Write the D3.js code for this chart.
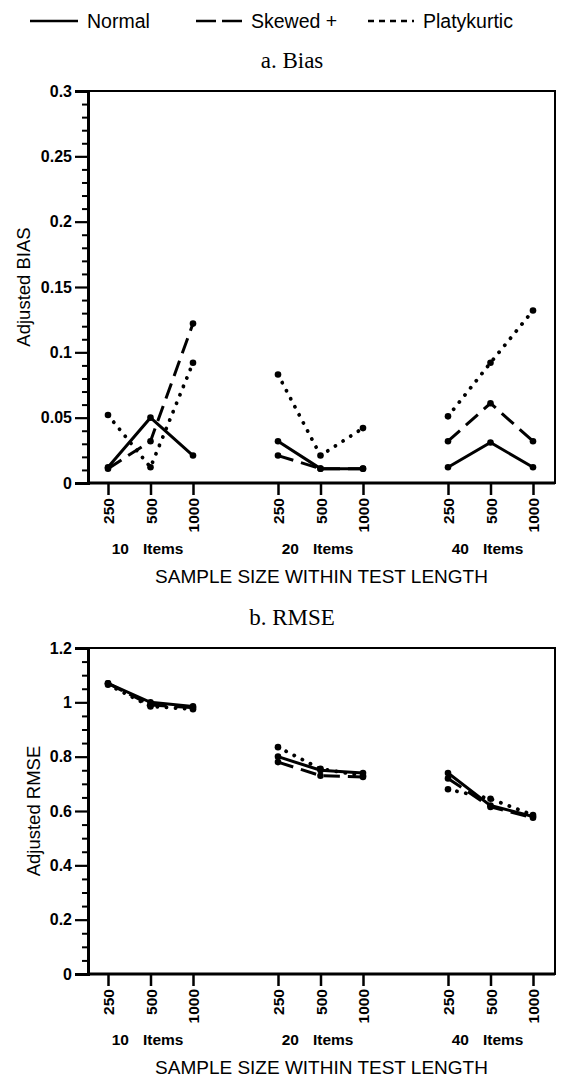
<!DOCTYPE html>
<html>
<head>
<meta charset="utf-8">
<script src="https://cdn.jsdelivr.net/npm/d3@7"></script>
<style>
  body { margin: 0; background: #fff; }
  svg text { fill: #000; }
  .sans { font-family: "Liberation Sans", Arial, sans-serif; }
  .serif { font-family: "Liberation Serif", "Times New Roman", serif; }
</style>
</head>
<body>
<div id="chart"></div>
<script>
// categories
const groups = ["10", "20", "40"];
const sizes = ["250", "500", "1000"];
const seriesNames = ["Normal", "Skewed +", "Platykurtic"];

// a. Bias  (one inner array per test length, values for 250 / 500 / 1000)
const biasTicks = [0, 0.05, 0.1, 0.15, 0.2, 0.25, 0.3];
const biasNormal = [[0.012, 0.050, 0.021], [0.032, 0.011, 0.011], [0.012, 0.031, 0.012]];
const biasSkewed = [[0.011, 0.032, 0.122], [0.021, 0.011, 0.011], [0.032, 0.061, 0.032]];
const biasPlaty  = [[0.052, 0.012, 0.092], [0.083, 0.021, 0.042], [0.051, 0.092, 0.132]];

// b. RMSE
const rmseTicks = [0, 0.2, 0.4, 0.6, 0.8, 1, 1.2];
const rmseNormal = [[1.070, 1.000, 0.985], [0.800, 0.750, 0.740], [0.740, 0.620, 0.580]];
const rmseSkewed = [[1.070, 0.990, 0.980], [0.780, 0.730, 0.725], [0.720, 0.615, 0.575]];
const rmsePlaty  = [[1.065, 0.985, 0.975], [0.835, 0.755, 0.730], [0.680, 0.645, 0.585]];

const width = 569, height = 1083;
const margin = { left: 88, right: 14 };
const plotRight = width - margin.right;

const styles = {
  "Normal":      { dash: null,    cap: "butt",  width: 3 },
  "Skewed +":    { dash: "16,8",  cap: "butt",  width: 3 },
  "Platykurtic": { dash: "0.1,9", cap: "round", width: 3.8 }
};

const svg = d3.select('#chart').append('svg')
  .attr('width', width)
  .attr('height', height)
  .style('background-color', '#fff');

const xGroup = d3.scalePoint().domain(groups).range([150, 490]);
const xSize = d3.scalePoint().domain(sizes).range([-42, 43]);
const xPos = (g, s) => xGroup(g) + xSize(s);

// legend
const legendY = 21;
const legendLines = [[30, 78], [196, 242], [368, 414]];
const legendDash = [null, "20,6", "6,5"];
seriesNames.forEach((name, i) => {
  svg.append('line')
    .attr('x1', legendLines[i][0]).attr('x2', legendLines[i][1])
    .attr('y1', legendY).attr('y2', legendY)
    .attr('stroke', '#000').attr('stroke-width', 2.4)
    .attr('stroke-dasharray', legendDash[i]);
  svg.append('text')
    .attr('class', 'sans')
    .attr('x', legendLines[i][1] + 9)
    .attr('y', legendY + 7)
    .style('font-size', '19.5px')
    .text(name);
});

function drawPanel(p) {
  const y = d3.scaleLinear().domain([p.ticks[0], p.ticks[p.ticks.length - 1]]).range([p.bottom, p.top]);

  svg.append('text')
    .attr('class', 'serif')
    .attr('x', 292)
    .attr('y', p.top - 23)
    .attr('text-anchor', 'middle')
    .style('font-size', '23px')
    .text(p.title);

  // frame
  svg.append('rect')
    .attr('x', margin.left).attr('y', p.top)
    .attr('width', plotRight - margin.left).attr('height', p.bottom - p.top)
    .attr('fill', 'none').attr('stroke', '#000').attr('stroke-width', 2);

  // minor ticks
  const minor = d3.range(0, y.domain()[1] + 1e-9, p.minorStep)
    .filter(v => !p.ticks.some(t => Math.abs(t - v) < 1e-9));
  svg.append('g')
    .attr('transform', `translate(${margin.left}, 0)`)
    .call(d3.axisLeft(y).tickValues(minor).tickSize(6).tickFormat(''))
    .call(g => g.select('.domain').remove())
    .selectAll('line').attr('stroke-width', 2);

  svg.append('g')
    .attr('transform', `translate(${margin.left}, 0)`)
    .call(d3.axisLeft(y).tickValues(p.ticks).tickSize(13).tickPadding(3).tickFormat(d => String(+d.toFixed(2))))
    .call(g => g.select('.domain').attr('stroke-width', 3))
    .call(g => g.selectAll('line').attr('stroke-width', 2.2))
    .call(g => g.selectAll('text').attr('class', 'sans')
      .style('font-size', '16px').style('font-weight', 'bold').attr('fill', '#000'));

  // x axis, one per test length
  groups.forEach(gr => {
    svg.append('g')
      .attr('transform', `translate(${xGroup(gr)}, ${p.bottom})`)
      .call(d3.axisBottom(xSize).tickSize(12).tickPadding(3))
      .call(g => g.select('.domain').remove())
      .call(g => g.selectAll('line').attr('stroke-width', 2.5))
      .call(g => g.selectAll('text')
        .attr('class', 'sans')
        .attr('transform', 'rotate(-90)')
        .attr('x', -15).attr('y', 0).attr('dy', '0.36em')
        .attr('text-anchor', 'end')
        .style('font-size', '15.5px').style('font-weight', 'bold').attr('fill', '#000'));

    svg.append('text')
      .attr('class', 'sans')
      .attr('x', xGroup(gr) - 21).attr('y', p.bottom + 71)
      .attr('text-anchor', 'end')
      .style('font-size', '15.5px').style('font-weight', 'bold')
      .text(gr);
    svg.append('text')
      .attr('class', 'sans')
      .attr('x', xGroup(gr) - 7).attr('y', p.bottom + 71)
      .style('font-size', '15.5px').style('font-weight', 'bold')
      .text('Items');
  });
  svg.append('line')
    .attr('x1', margin.left).attr('x2', plotRight)
    .attr('y1', p.bottom).attr('y2', p.bottom)
    .attr('stroke', '#000').attr('stroke-width', 3);

  svg.append('text')
    .attr('class', 'sans')
    .attr('x', (margin.left + plotRight) / 2)
    .attr('y', p.bottom + 100)
    .attr('text-anchor', 'middle')
    .style('font-size', '19px')
    .text('SAMPLE SIZE WITHIN TEST LENGTH');

  svg.append('text')
    .attr('class', 'sans')
    .attr('transform', `translate(${p.yTitleX}, ${(p.top + p.bottom) / 2}) rotate(-90)`)
    .attr('text-anchor', 'middle')
    .attr('dy', '0.36em')
    .style('font-size', '18.5px')
    .text(p.yTitle);

  // series, drawn back to front
  const line = (gr) => d3.line().x((d, i) => xPos(gr, sizes[i])).y(d => y(d));
  [2, 1, 0].forEach(si => {
    const name = seriesNames[si];
    const st = styles[name];
    p.data[si].forEach((vals, gi) => {
      const gr = groups[gi];
      svg.append('path')
        .datum(vals)
        .attr('d', line(gr))
        .attr('fill', 'none')
        .attr('stroke', '#000')
        .attr('stroke-width', st.width)
        .attr('stroke-linecap', st.cap)
        .attr('stroke-dasharray', st.dash);
      svg.selectAll(null)
        .data(vals)
        .enter()
        .append('circle')
        .attr('cx', (d, i) => xPos(gr, sizes[i]))
        .attr('cy', d => y(d))
        .attr('r', 3.3)
        .attr('fill', '#000');
    });
  });
}

drawPanel({
  title: 'a. Bias', top: 91, bottom: 483,
  ticks: biasTicks, minorStep: 0.01,
  yTitle: 'Adjusted BIAS', yTitleX: 23,
  data: [biasNormal, biasSkewed, biasPlaty]
});

drawPanel({
  title: 'b. RMSE', top: 648, bottom: 974,
  ticks: rmseTicks, minorStep: 0.05,
  yTitle: 'Adjusted RMSE', yTitleX: 33,
  data: [rmseNormal, rmseSkewed, rmsePlaty]
});
</script>
</body>
</html>
